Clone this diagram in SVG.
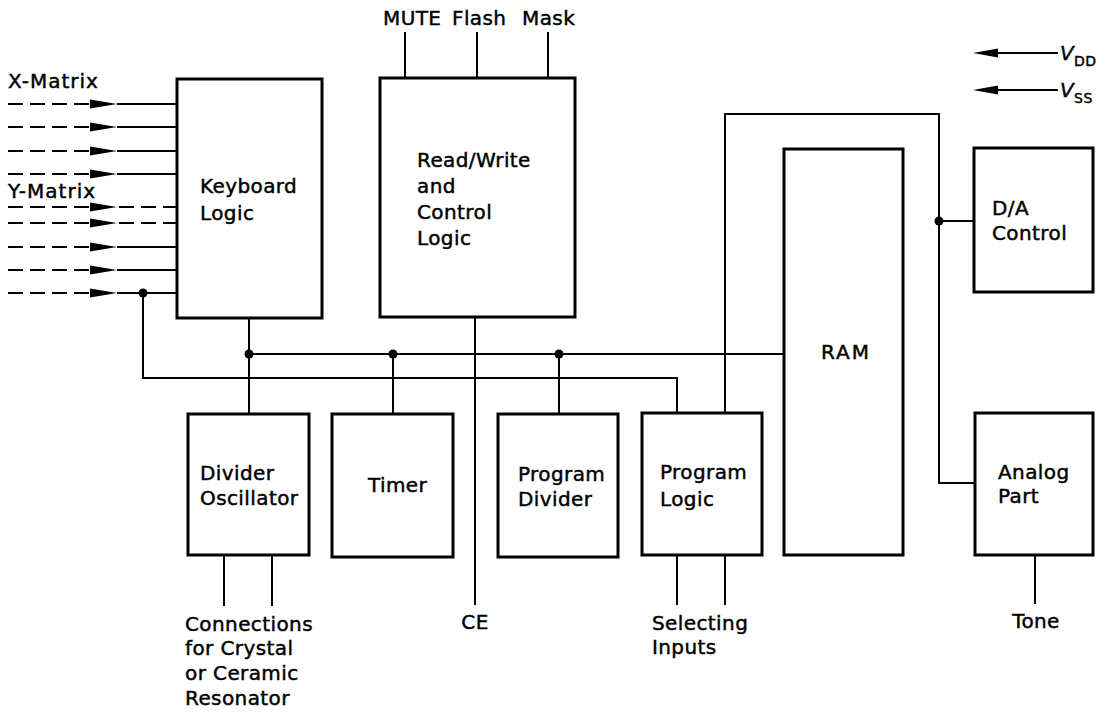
<svg xmlns="http://www.w3.org/2000/svg" width="1096" height="712" viewBox="0 0 1096 712">
<defs>
<style>
.box{fill:none;stroke:#000;stroke-width:3}
.ln{fill:none;stroke:#000;stroke-width:2}
.dash{fill:none;stroke:#000;stroke-width:2;stroke-dasharray:15 7}
.ah{fill:#000}
.dot{fill:#000}
text{font-family:"DejaVu Sans","Liberation Sans",sans-serif;font-size:20px;fill:#000;stroke:#000;stroke-width:0.45;letter-spacing:0.4px}
</style>
</defs>
<rect width="1096" height="712" fill="#fff"/>
<g id="connectors">
<path class="dash" d="M8 104H92M8 127H92M8 151H92M8 174H92M8 207H92M8 223H92M8 247H92M8 270H92M8 293H92"/>
<path class="ln" d="M117 104H177M117 127H177M117 151H177M117 174H177M117 247H177M117 270H177M117 293H177"/>
<path class="dash" d="M119 207H177M119 223H177"/>
<g class="ah">
<polygon points="90,99.5 117,104 90,108.5"/>
<polygon points="90,122.5 117,127 90,131.5"/>
<polygon points="90,146.5 117,151 90,155.5"/>
<polygon points="90,169.5 117,174 90,178.5"/>
<polygon points="90,202.5 117,207 90,211.5"/>
<polygon points="90,218.5 117,223 90,227.5"/>
<polygon points="90,242.5 117,247 90,251.5"/>
<polygon points="90,265.5 117,270 90,274.5"/>
<polygon points="90,288.5 117,293 90,297.5"/>
</g>
<path class="ln" d="M249 318V414M249 354H784M393 354V414M559 354V414"/>
<path class="ln" d="M143 293V378H677V413"/>
<path class="ln" d="M475 317V605"/>
<path class="ln" d="M405 32V78M477 32V78M548 32V78"/>
<path class="ln" d="M725 413V114H939V483H975M939 221H974"/>
<path class="ln" d="M224 555V606M272 555V606M677 555V605M725 555V605M1035 555V604"/>
<circle class="dot" cx="143" cy="293" r="4.5"/>
<circle class="dot" cx="249" cy="354" r="4.5"/>
<circle class="dot" cx="393" cy="354" r="4.5"/>
<circle class="dot" cx="559" cy="354" r="4.5"/>
<circle class="dot" cx="939" cy="221" r="4.5"/>
<path class="ln" d="M996 53H1058M996 90H1058"/>
<polygon class="ah" points="973,53 998,48.5 998,57.5"/>
<polygon class="ah" points="973,90 998,85.5 998,94.5"/>
</g>
<g id="keyboard-logic">
<rect class="box" x="177" y="79" width="145" height="239"/>
<text x="200" y="193">Keyboard</text>
<text x="200" y="220">Logic</text>
</g>
<g id="read-write-control">
<rect class="box" x="380" y="78" width="195" height="239"/>
<text x="417" y="167">Read/Write</text>
<text x="417" y="193">and</text>
<text x="417" y="219">Control</text>
<text x="417" y="245">Logic</text>
</g>
<g id="ram">
<rect class="box" x="784" y="149" width="119" height="406"/>
<text x="846" y="359" text-anchor="middle" style="letter-spacing:2px">RAM</text>
</g>
<g id="da-control">
<rect class="box" x="974" y="148" width="119" height="144"/>
<text x="992" y="215">D/A</text>
<text x="992" y="240">Control</text>
</g>
<g id="divider-oscillator">
<rect class="box" x="188" y="414" width="121" height="141"/>
<text x="200" y="480">Divider</text>
<text x="200" y="505">Oscillator</text>
</g>
<g id="timer">
<rect class="box" x="332" y="414" width="121" height="143"/>
<text x="368" y="492">Timer</text>
</g>
<g id="program-divider">
<rect class="box" x="498" y="414" width="120" height="143"/>
<text x="518" y="481">Program</text>
<text x="518" y="506">Divider</text>
</g>
<g id="program-logic">
<rect class="box" x="642" y="413" width="120" height="142"/>
<text x="660" y="479">Program</text>
<text x="660" y="506">Logic</text>
</g>
<g id="analog-part">
<rect class="box" x="975" y="413" width="118" height="142"/>
<text x="998" y="479">Analog</text>
<text x="998" y="503">Part</text>
</g>
<g id="labels">
<text x="8" y="88" style="letter-spacing:1px">X-Matrix</text>
<text x="8" y="198" style="letter-spacing:1px">Y-Matrix</text>
<text x="383" y="25">MUTE</text>
<text x="452" y="25">Flash</text>
<text x="522" y="25">Mask</text>
<text x="1060" y="60" font-style="italic">V<tspan font-style="normal" font-size="14" dy="6">DD</tspan></text>
<text x="1060" y="97" font-style="italic">V<tspan font-style="normal" font-size="14" dy="6">SS</tspan></text>
<text x="185" y="631">Connections</text>
<text x="185" y="655">for Crystal</text>
<text x="185" y="680">or Ceramic</text>
<text x="185" y="705">Resonator</text>
<text x="475" y="629" text-anchor="middle">CE</text>
<text x="652" y="630">Selecting</text>
<text x="652" y="654">Inputs</text>
<text x="1036" y="628" text-anchor="middle">Tone</text>
</g>
</svg>
